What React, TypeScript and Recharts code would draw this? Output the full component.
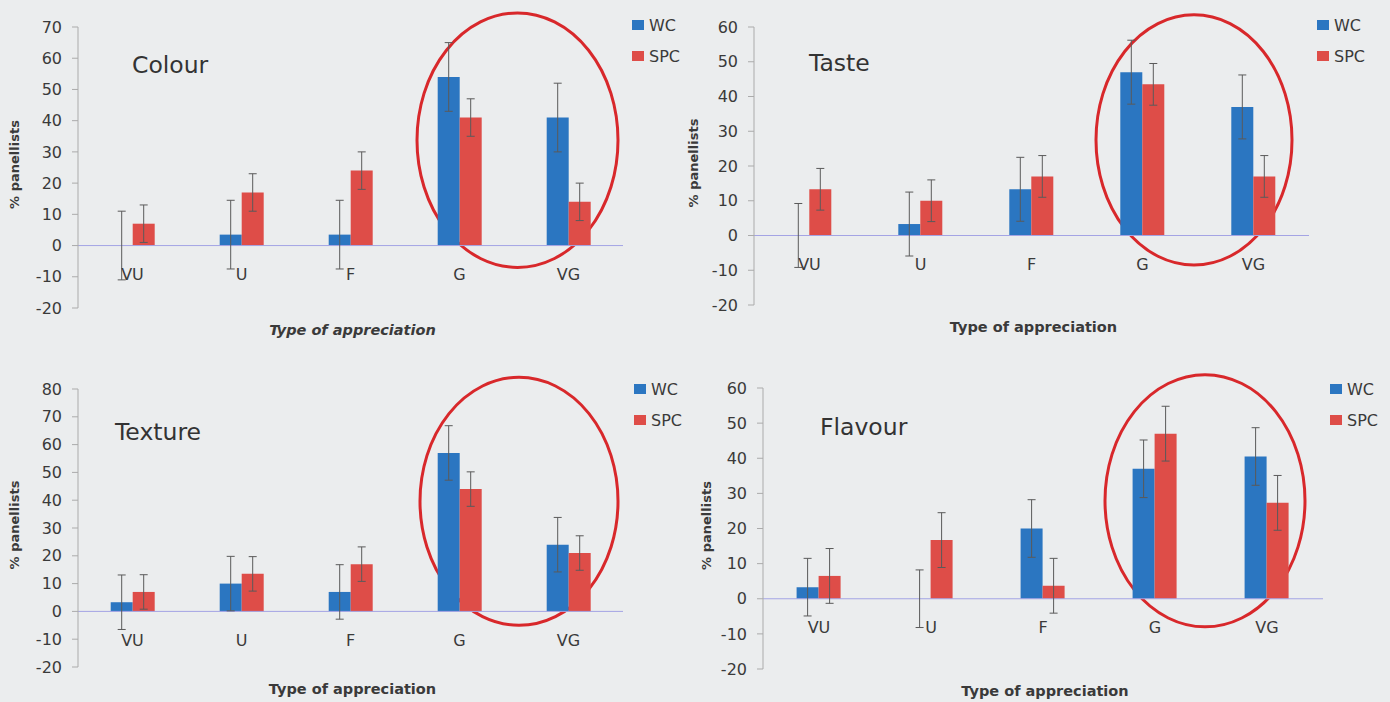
import React from 'react';
import { BarChart, Bar, XAxis, YAxis, ErrorBar, ReferenceLine, ReferenceArea, Legend } from 'recharts';

const categories = ['VU', 'U', 'F', 'G', 'VG'];

const colourWC = [0.01, 3.5, 3.5, 54, 41];
const colourWCErr = [11, 11, 11, 11, 11];
const colourSPC = [7, 17, 24, 41, 14];
const colourSPCErr = [6, 6, 6, 6, 6];

const tasteWC = [0.01, 3.3, 13.3, 47, 37];
const tasteWCErr = [9.2, 9.2, 9.2, 9.2, 9.2];
const tasteSPC = [13.3, 10, 17, 43.5, 17];
const tasteSPCErr = [6, 6, 6, 6, 6];

const textureWC = [3.3, 10, 7, 57, 24];
const textureWCErr = [9.8, 9.8, 9.8, 9.8, 9.8];
const textureSPC = [7, 13.5, 17, 44, 21];
const textureSPCErr = [6.2, 6.2, 6.2, 6.2, 6.2];

const flavourWC = [3.3, 0.01, 20, 37, 40.5];
const flavourWCErr = [8.2, 8.2, 8.2, 8.2, 8.2];
const flavourSPC = [6.5, 16.7, 3.7, 47, 27.3];
const flavourSPCErr = [7.8, 7.8, 7.8, 7.8, 7.8];

const ticks70 = [-20, -10, 0, 10, 20, 30, 40, 50, 60, 70];
const ticks60 = [-20, -10, 0, 10, 20, 30, 40, 50, 60];
const ticks80 = [-20, -10, 0, 10, 20, 30, 40, 50, 60, 70, 80];

const seriesNames = ['WC', 'SPC'];
const xTitle = 'Type of appreciation';
const yTitle = '% panellists';

const BLUE = '#2b76c1';
const RED = '#de4d48';
const FONT = '"DejaVu Sans", Verdana, sans-serif';
const TXT = '#3a3a3a';

function build(wc: number[], wcErr: number[], spc: number[], spcErr: number[]) {
  return categories.map((c, i) => ({ cat: c, wc: wc[i], wcErr: wcErr[i], spc: spc[i], spcErr: spcErr[i] }));
}

type PanelCfg = {
  title: string;
  data: any[];
  ticks: number[];
  left: number;
  top: number;
  width: number;
  height: number;
  margin: { top: number; right: number; bottom: number; left: number };
  titleX: number;
  titleY: number;
  yTitleX: number;
  xTitleItalic: boolean;
  ellipse: [number, number];
  ellipseDx: number;
  ellipseInset: number;
  legendLeft: number;
  legendTop: number;
};

const panels: PanelCfg[] = [
  {
    title: 'Colour', data: build(colourWC, colourWCErr, colourSPC, colourSPCErr), ticks: ticks70,
    left: 0, top: 0, width: 700, height: 350, margin: { top: 27, right: 77, bottom: 32, left: 18 },
    titleX: 132, titleY: 65, yTitleX: 14, xTitleItalic: true, ellipse: [-7, 74.5], ellipseDx: 3.5, ellipseInset: 8.5,
    legendLeft: 632, legendTop: 9.5,
  },
  {
    title: 'Taste', data: build(tasteWC, tasteWCErr, tasteSPC, tasteSPCErr), ticks: ticks60,
    left: 680, top: 0, width: 700, height: 350, margin: { top: 27, right: 71, bottom: 35, left: 14 },
    titleX: 809, titleY: 63, yTitleX: 13, xTitleItalic: false, ellipse: [-8.5, 63.5], ellipseDx: -4, ellipseInset: 13,
    legendLeft: 637, legendTop: 9.5,
  },
  {
    title: 'Texture', data: build(textureWC, textureWCErr, textureSPC, textureSPCErr), ticks: ticks80,
    left: 0, top: 350, width: 700, height: 352, margin: { top: 39, right: 77, bottom: 25, left: 18 },
    titleX: 115, titleY: 432, yTitleX: 14, xTitleItalic: false, ellipse: [-5, 84.2], ellipseDx: 5, ellipseInset: 10,
    legendLeft: 634, legendTop: 23.5,
  },
  {
    title: 'Flavour', data: build(flavourWC, flavourWCErr, flavourSPC, flavourSPCErr), ticks: ticks60,
    left: 680, top: 350, width: 700, height: 352, margin: { top: 38, right: 57, bottom: 23, left: 23 },
    titleX: 820, titleY: 427, yTitleX: 26, xTitleItalic: false, ellipse: [-8, 63.8], ellipseDx: -6, ellipseInset: 12,
    legendLeft: 650, legendTop: 23.5,
  },
];

const X_AXIS_H = 10;
const Y_AXIS_W = 60;

function LegendBox(props: any) {
  const payload = [...(props.payload || [])].sort(
    (a: any, b: any) => seriesNames.indexOf(a.value) - seriesNames.indexOf(b.value)
  );
  return (
    <div style={{ fontFamily: FONT, fontSize: 16, color: TXT }}>
      {payload.map((e: any) => (
        <div key={e.value} style={{ display: 'flex', alignItems: 'center', height: 31, whiteSpace: 'nowrap' }}>
          <span style={{ display: 'inline-block', width: 12, height: 10, background: e.color, marginRight: 5 }} />
          <span>{e.value}</span>
        </div>
      ))}
    </div>
  );
}

function Panel({ cfg }: { cfg: PanelCfg }) {
  const min = cfg.ticks[0];
  const max = cfg.ticks[cfg.ticks.length - 1];
  const plotH = cfg.height - cfg.margin.top - cfg.margin.bottom - X_AXIS_H;
  const zeroFromBottom = (plotH * -min) / (max - min);
  const labelUp = zeroFromBottom - 29;

  const catTick = (p: any) => (
    <text x={p.x} y={p.y - labelUp} textAnchor="middle" dominantBaseline="central" fill={TXT} fontSize={16} fontFamily={FONT}>
      {p.payload.value}
    </text>
  );

  const yLabel = (p: any) => {
    const vb = p.viewBox || {};
    const cy = vb.y + vb.height / 2 - 3;
    return (
      <text x={cfg.yTitleX} y={cy} transform={`rotate(-90, ${cfg.yTitleX}, ${cy})`} textAnchor="middle" dominantBaseline="central" fill={TXT} fontSize={13} fontWeight="bold" fontFamily={FONT}>
        {yTitle}
      </text>
    );
  };

  const xLabel = (p: any) => {
    const vb = p.viewBox || {};
    const cx = vb.x + vb.width / 2 + 2;
    const cy = vb.y + 22;
    return (
      <text x={cx} y={cy} textAnchor="middle" dominantBaseline="central" fill={TXT} fontSize={14.5} fontWeight="bold" fontStyle={cfg.xTitleItalic ? 'italic' : 'normal'} fontFamily={FONT}>
        {xTitle}
      </text>
    );
  };

  const ellipseShape = (p: any) => (
    <ellipse cx={p.x + p.width / 2 + cfg.ellipseDx} cy={p.y + p.height / 2} rx={p.width / 2 - cfg.ellipseInset} ry={Math.abs(p.height) / 2} fill="none" stroke="#d8282b" strokeWidth={3} />
  );

  return (
    <div style={{ position: 'absolute', left: cfg.left, top: cfg.top, width: cfg.width, height: cfg.height }}>
      <BarChart width={cfg.width} height={cfg.height} data={cfg.data} margin={cfg.margin} barCategoryGap="30%" barGap={0}>
        <XAxis dataKey="cat" height={X_AXIS_H} axisLine={false} tickLine={false} tickSize={0} tickMargin={0} tick={catTick} interval={0} label={xLabel} />
        <YAxis width={Y_AXIS_W} domain={[min, max]} ticks={cfg.ticks} interval={0} tickSize={6} tickMargin={10}
          axisLine={{ stroke: '#ababab' }} tickLine={{ stroke: '#ababab' }}
          tick={{ fill: TXT, fontSize: 16, fontFamily: FONT }} label={yLabel} />
        <ReferenceLine y={0} stroke="#a4a4e4" strokeWidth={1} />
        <Bar dataKey="wc" name={seriesNames[0]} fill={BLUE} isAnimationActive={false}>
          <ErrorBar dataKey="wcErr" width={4} stroke="#5a5a5a" strokeWidth={1} direction="y" />
        </Bar>
        <Bar dataKey="spc" name={seriesNames[1]} fill={RED} isAnimationActive={false}>
          <ErrorBar dataKey="spcErr" width={4} stroke="#5a5a5a" strokeWidth={1} direction="y" />
        </Bar>
        <ReferenceArea x1="G" x2="VG" y1={cfg.ellipse[0]} y2={cfg.ellipse[1]} ifOverflow="visible" shape={ellipseShape} />
        <Legend layout="vertical" align="center" verticalAlign="middle" wrapperStyle={{ left: cfg.legendLeft, top: cfg.legendTop, width: 'auto' }} content={LegendBox} />
      </BarChart>
      <div style={{ position: 'absolute', left: cfg.titleX - cfg.left, top: cfg.titleY - cfg.top - 14, fontFamily: FONT, fontSize: 23.5, lineHeight: '28px', color: '#333', whiteSpace: 'nowrap' }}>
        {cfg.title}
      </div>
    </div>
  );
}

export default function App() {
  return (
    <div style={{ position: 'absolute', left: 0, top: 0, width: 1390, height: 702, background: '#ebedee', overflow: 'hidden', fontFamily: FONT }}>
      {panels.map((p) => (
        <Panel key={p.title} cfg={p} />
      ))}
    </div>
  );
}
